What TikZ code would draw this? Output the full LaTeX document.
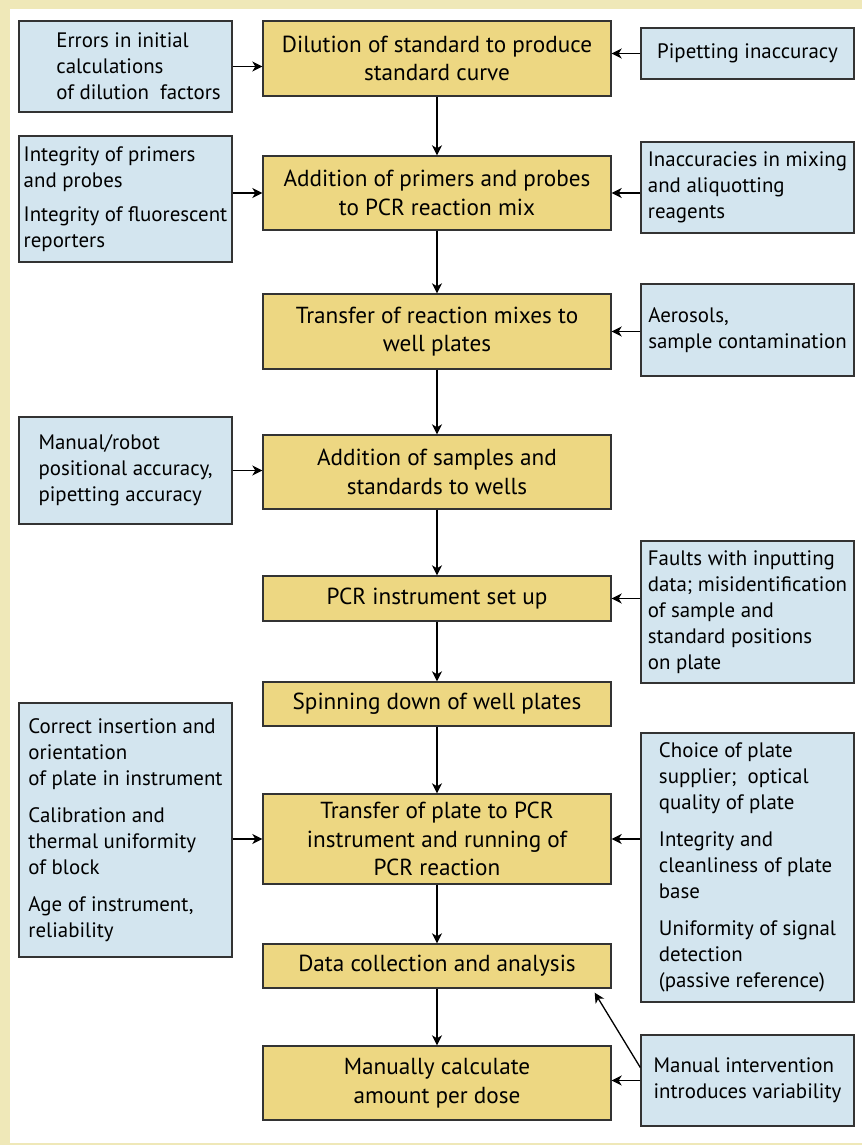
\documentclass[tikz,border=0pt]{standalone}
\usepackage{fontspec}
\setmainfont{PT Sans}
\usetikzlibrary{arrows.meta}
\definecolor{beige}{HTML}{EFE8B8}
\definecolor{stepfill}{HTML}{EDD782}
\definecolor{srcfill}{HTML}{D3E5EF}
\definecolor{edgecol}{HTML}{333333}
\newcommand{\ind}{\hspace*{26pt}}
\begin{document}
\begin{tikzpicture}[x=1pt,y=-1pt,
  stepbox/.style={draw=edgecol, line width=1.4pt, fill=stepfill, inner sep=2pt, align=center,
    font=\fontsize{23.2}{28.5}\selectfont, minimum width=348pt},
  srcbox/.style={draw=edgecol, line width=1.4pt, fill=srcfill, inner sep=2pt, align=left,
    font=\fontsize{20.9}{26}\selectfont, minimum width=213pt},
  arr/.style={-{Stealth[length=10pt,width=10pt,inset=3pt]}, line width=1.3pt, draw=black}]
\useasboundingbox (0,0) rectangle (862,1145);
\fill[beige] (0,0) rectangle (862,1145);
\fill[white] (10,9) rectangle (862,1143);

% centre steps
\node[stepbox, minimum height=75pt] (c1) at (437,58.5) {Dilution of standard to produce\\standard curve};
\node[stepbox, minimum height=74pt] (c2) at (437,193) {Addition of primers and probes\\to PCR reaction mix};
\node[stepbox, minimum height=75pt] (c3) at (437,331.5) {Transfer of reaction mixes to\\well plates};
\node[stepbox, minimum height=74pt] (c4) at (437,472) {Addition of samples and\\standards to wells};
\node[stepbox, minimum height=45pt] (c5) at (437,598.5) {PCR instrument set up};
\node[stepbox, minimum height=44pt] (c6) at (437,704) {Spinning down of well plates};
\node[stepbox, minimum height=90pt] (c7) at (437,839) {Transfer of plate to PCR\\instrument and running of\\PCR reaction};
\node[stepbox, minimum height=44pt] (c8) at (437,966) {Data collection and analysis};
\node[stepbox, minimum height=74pt] (c9) at (437,1083) {Manually calculate\\amount per dose};

% left sources
\node[srcbox, minimum height=91pt] (l1) at (125.5,66.5) {\ind Errors in initial\\\ind calculations\\\ind of dilution\ \ factors};
\node[srcbox, minimum height=126pt] (l2) at (125.5,199) {Integrity of primers\\and probes\\[8pt]Integrity of fluorescent\\reporters};
\node[srcbox, minimum height=107pt] (l3) at (125.5,470.5) {Manual/robot\\positional accuracy,\\pipetting accuracy};
\node[srcbox, minimum height=254pt] (l4) at (125.5,830) {Correct insertion and\\orientation\\of plate in instrument\\[11pt]Calibration and\\thermal uniformity\\of block\\[11pt]Age of instrument,\\reliability};

% right sources
\node[srcbox, minimum height=51pt] (r1) at (747.5,53.5) {Pipetting inaccuracy};
\node[srcbox, minimum height=91pt] (r2) at (747.5,187.5) {Inaccuracies in mixing\\and aliquotting\\reagents};
\node[srcbox, minimum height=92pt] (r3) at (747.5,330) {Aerosols,\\sample contamination};
\node[srcbox, minimum height=142pt] (r4) at (747.5,612) {Faults with inputting\\data; misidentification\\of sample and\\standard positions\\on plate};
\node[srcbox, minimum height=269pt] (r5) at (747.5,867.5) {Choice of plate\\supplier;\ \ optical\\quality of plate\\[11pt]Integrity and\\cleanliness of plate\\base\\[11pt]Uniformity of signal\\detection\\(passive reference)};
\node[srcbox, minimum height=91pt] (r6) at (747.5,1080.5) {Manual intervention\\introduces variability};

% main flow
\draw[arr] (c1) -- (c2);
\draw[arr] (c2) -- (c3);
\draw[arr] (c3) -- (c4);
\draw[arr] (c4) -- (c5);
\draw[arr] (c5) -- (c6);
\draw[arr] (c6) -- (c7);
\draw[arr] (c7) -- (c8);
\draw[arr] (c8) -- (c9);

% influences
\draw[arr] (l1.east) -- (l1.east -| c1.west);
\draw[arr] (r1.west) -- (r1.west -| c1.east);
\draw[arr] (l2.east |- c2.west) -- (c2.west);
\draw[arr] (r2.west |- c2.east) -- (c2.east);
\draw[arr] (r3.west |- c3.east) -- (c3.east);
\draw[arr] (l3.east) -- (l3.east -| c4.west);
\draw[arr] (r4.west |- c5.east) -- (c5.east);
\draw[arr] (l4.east |- c7.west) -- (c7.west);
\draw[arr] (r5.west |- c7.east) -- (c7.east);
\draw[arr] (r6.west) -- (r6.west -| c9.east);
\coordinate (d1) at ([yshift=13pt]r6.west);
\coordinate (d2) at ([xshift=-17pt,yshift=-4pt]c8.south east);
\draw[arr] (d1) -- (d2);
\end{tikzpicture}
\end{document}
